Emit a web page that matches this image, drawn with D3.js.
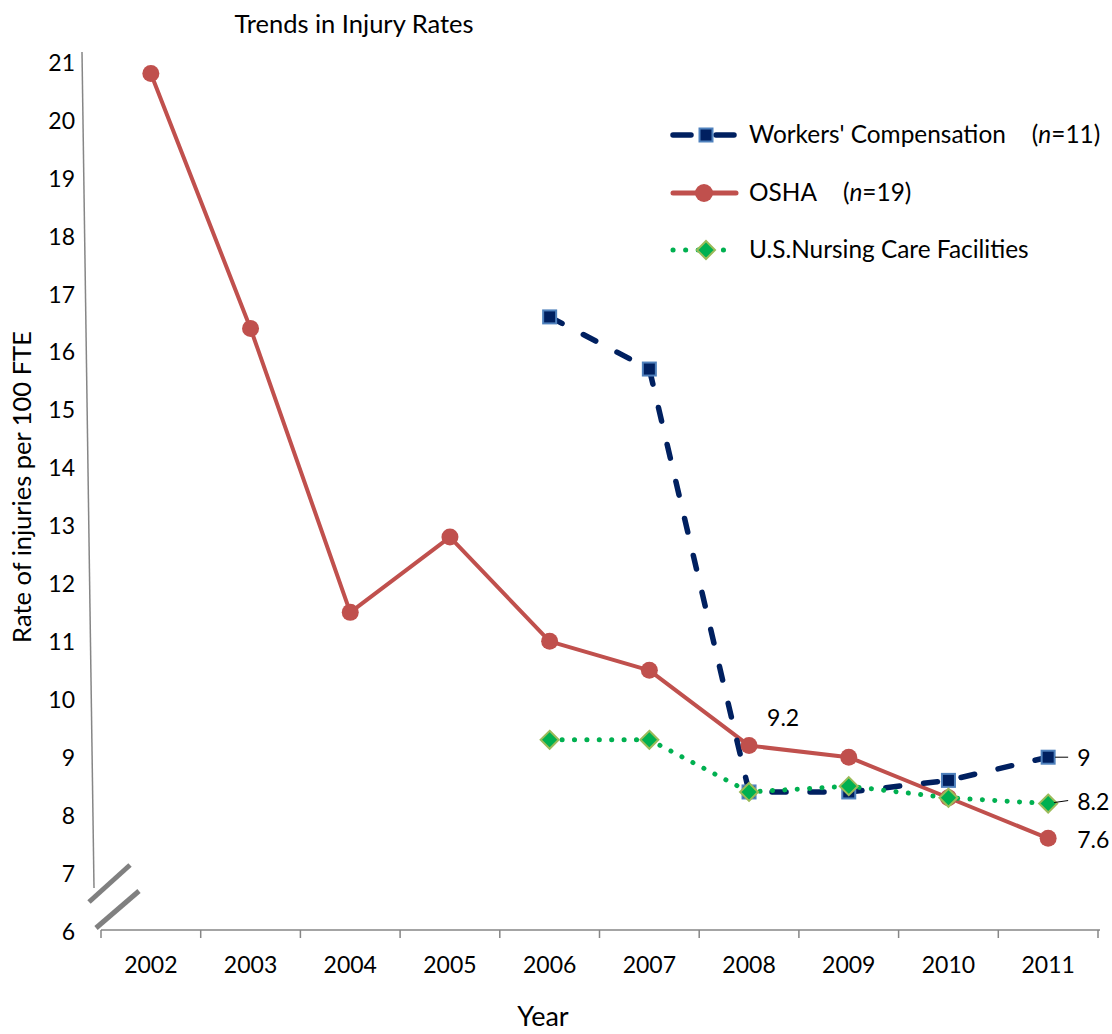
<!DOCTYPE html>
<html>
<head>
<meta charset="utf-8">
<script src="https://cdn.jsdelivr.net/npm/d3@7"></script>
<style>
    body { margin: 0; background: #fff; }
    text { font-family: Lato, "Open Sans", sans-serif; fill: #000; }
</style>
</head>
<body>
<div id="chart"></div>
<script>
const years = ['2002', '2003', '2004', '2005', '2006', '2007', '2008', '2009', '2010', '2011'];
const oshaValues = [20.8, 16.4, 11.5, 12.8, 11.0, 10.5, 9.2, 9.0, 8.3, 7.6];
const workersCompValues = [null, null, null, null, 16.6, 15.7, 8.4, 8.4, 8.6, 9.0];
const nursingValues = [null, null, null, null, 9.3, 9.3, 8.4, 8.5, 8.3, 8.2];
const yTicks = [6, 7, 8, 9, 10, 11, 12, 13, 14, 15, 16, 17, 18, 19, 20, 21];

const width = 1112;
const height = 1034;

const svg = d3.select('#chart')
    .append('svg')
    .attr('width', width)
    .attr('height', height);

const x = d3.scalePoint()
    .domain(years)
    .range([101, 1098])
    .padding(0.5);

const y = d3.scaleLinear()
    .domain([6, 21])
    .range([931, 62]);

// y axis labels (line drawn by hand, it leans a little in the original)
const yAxis = svg.append('g')
    .attr('transform', 'translate(75,0)')
    .call(d3.axisLeft(y).tickValues(yTicks).tickSize(0).tickPadding(0));
yAxis.select('.domain').remove();
yAxis.selectAll('text')
    .attr('font-size', 23)
    .attr('font-family', 'Lato, sans-serif')
    .attr('fill', '#000')
    .attr('dy', '0.36em');

svg.append('line')
    .attr('x1', 82).attr('y1', 52)
    .attr('x2', 94).attr('y2', 888)
    .attr('stroke', '#868686')
    .attr('stroke-width', 1.5);

// axis break marks
svg.append('line')
    .attr('x1', 89).attr('y1', 902).attr('x2', 130).attr('y2', 865)
    .attr('stroke', '#808080').attr('stroke-width', 5);
svg.append('line')
    .attr('x1', 96).attr('y1', 928).attr('x2', 139).attr('y2', 891)
    .attr('stroke', '#808080').attr('stroke-width', 5);

// x axis
const step = x.step();
svg.append('line')
    .attr('x1', 101).attr('y1', 930)
    .attr('x2', 1100).attr('y2', 930)
    .attr('stroke', '#868686')
    .attr('stroke-width', 1.5);

svg.append('g')
    .selectAll('line')
    .data(years.concat(['end']))
    .enter()
    .append('line')
    .attr('x1', (d, i) => x.range()[0] + i * step)
    .attr('x2', (d, i) => x.range()[0] + i * step)
    .attr('y1', 930)
    .attr('y2', 938)
    .attr('stroke', '#868686')
    .attr('stroke-width', 1.5);

svg.append('g')
    .selectAll('text')
    .data(years)
    .enter()
    .append('text')
    .attr('x', d => x(d))
    .attr('y', 973)
    .attr('text-anchor', 'middle')
    .attr('font-size', 23)
    .text(d => d);

// titles
svg.append('text')
    .attr('x', 354)
    .attr('y', 33)
    .attr('text-anchor', 'middle')
    .attr('font-size', 25.5)
    .text('Trends in Injury Rates');

svg.append('text')
    .attr('transform', 'translate(31,487) rotate(-90)')
    .attr('text-anchor', 'middle')
    .attr('font-size', 25.5)
    .text('Rate of injuries per 100 FTE');

svg.append('text')
    .attr('x', 543)
    .attr('y', 1026)
    .attr('text-anchor', 'middle')
    .attr('font-size', 27)
    .text('Year');

// series
const series = [
    { name: 'osha', values: oshaValues, color: '#c0504d', width: 4, dash: null },
    { name: 'workers', values: workersCompValues, color: '#002060', width: 5.5, dash: '14,24' },
    { name: 'nursing', values: nursingValues, color: '#00b050', width: 5, dash: '0.1,12.3' }
];

const line = d3.line()
    .x(d => x(d.year))
    .y(d => y(d.v));

function points(values) {
    return years.map((yr, i) => ({ year: yr, v: values[i] })).filter(d => d.v !== null);
}

series.forEach(s => {
    svg.append('path')
        .datum(points(s.values))
        .attr('d', line)
        .attr('fill', 'none')
        .attr('stroke', s.color)
        .attr('stroke-width', s.width)
        .attr('stroke-linecap', 'round')
        .attr('stroke-linejoin', 'round')
        .attr('stroke-dasharray', s.dash);
});

// markers
function drawSquare(g, cx, cy, size) {
    g.append('rect')
        .attr('x', cx - size / 2)
        .attr('y', cy - size / 2)
        .attr('width', size)
        .attr('height', size)
        .attr('fill', '#002060')
        .attr('stroke', '#4f81bd')
        .attr('stroke-width', 2);
}

function drawCircle(g, cx, cy, r) {
    g.append('circle')
        .attr('cx', cx)
        .attr('cy', cy)
        .attr('r', r)
        .attr('fill', '#c0504d');
}

function drawDiamond(g, cx, cy, r) {
    g.append('path')
        .attr('d', `M${cx},${cy - r}L${cx + r},${cy}L${cx},${cy + r}L${cx - r},${cy}Z`)
        .attr('fill', '#00b050')
        .attr('stroke', '#9bbb59')
        .attr('stroke-width', 2);
}

const markers = svg.append('g');
points(oshaValues).forEach(d => drawCircle(markers, x(d.year), y(d.v), 8.5));
points(workersCompValues).forEach(d => drawSquare(markers, x(d.year), y(d.v), 13));
points(nursingValues).forEach(d => drawDiamond(markers, x(d.year), y(d.v), 9));

// data labels
const last = years.length - 1;
svg.append('text')
    .attr('x', x(years[6]) + 18)
    .attr('y', y(oshaValues[6]) - 20)
    .attr('font-size', 23)
    .text(oshaValues[6].toFixed(1));

svg.append('line')
    .attr('x1', x(years[last]) + 7).attr('y1', y(workersCompValues[last]))
    .attr('x2', x(years[last]) + 20).attr('y2', y(workersCompValues[last]))
    .attr('stroke', '#000').attr('stroke-width', 1);
svg.append('text')
    .attr('x', x(years[last]) + 29)
    .attr('y', y(workersCompValues[last]) + 9)
    .attr('font-size', 23)
    .text(workersCompValues[last]);

svg.append('line')
    .attr('x1', x(years[last]) + 6).attr('y1', y(nursingValues[last]) - 1)
    .attr('x2', x(years[last]) + 20).attr('y2', y(nursingValues[last]) - 3)
    .attr('stroke', '#000').attr('stroke-width', 1);
svg.append('text')
    .attr('x', x(years[last]) + 29)
    .attr('y', y(nursingValues[last]) + 6)
    .attr('font-size', 23)
    .text(nursingValues[last].toFixed(1));

svg.append('text')
    .attr('x', x(years[last]) + 29)
    .attr('y', y(oshaValues[last]) + 10)
    .attr('font-size', 23)
    .text(oshaValues[last].toFixed(1));

// legend
const legendRows = [
    { label: "Workers' Compensation", n: '11', color: '#002060', width: 5.5, dash: '18,25', y: 135, marker: 'square' },
    { label: 'OSHA', n: '19', color: '#c0504d', width: 5, dash: null, y: 193, marker: 'circle' },
    { label: 'U.S.Nursing Care Facilities', n: null, color: '#00b050', width: 5, dash: '0.1,12.5', y: 250, marker: 'diamond' }
];

const legend = svg.append('g');
legendRows.forEach(r => {
    legend.append('line')
        .attr('x1', 673).attr('x2', 736)
        .attr('y1', r.y).attr('y2', r.y)
        .attr('stroke', r.color)
        .attr('stroke-width', r.width)
        .attr('stroke-linecap', 'round')
        .attr('stroke-dasharray', r.dash);
    if (r.marker === 'square') drawSquare(legend, 706, r.y, 13);
    if (r.marker === 'circle') drawCircle(legend, 704, r.y, 9);
    if (r.marker === 'diamond') drawDiamond(legend, 706, r.y, 9);

    const t = legend.append('text')
        .attr('x', 749)
        .attr('y', r.y + 8)
        .attr('font-size', 24.4);
    t.append('tspan').text(r.label);
    if (r.n) {
        t.append('tspan').attr('dx', 26).text('(');
        t.append('tspan').attr('font-style', 'italic').text('n');
        t.append('tspan').text('=' + r.n + ')');
    }
});
</script>
</body>
</html>
